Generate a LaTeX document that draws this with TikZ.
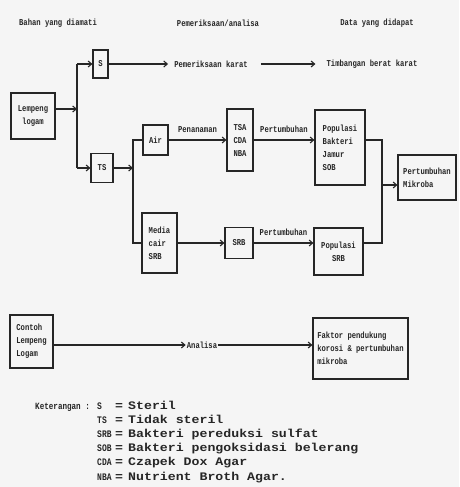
\documentclass[tikz,border=0pt]{standalone}
\usepackage{fontspec}
\setmonofont{Liberation Mono}
\newfontfamily\narrowtt[FakeStretch=0.8]{Liberation Mono}
\newfontfamily\widett[FakeStretch=1.15]{Liberation Mono}
\usetikzlibrary{arrows.meta,calc}

\begin{document}
\begin{tikzpicture}[x=1pt,y=-1pt,>={Straight Barb[length=3.5pt,width=6pt]},
  box/.style={draw=black!85,line width=1.1pt,inner sep=1pt,align=left,
    text=black!85,font=\narrowtt\bfseries\fontsize{9}{13}\selectfont},
  lbl/.style={inner sep=1pt,text=black!85,font=\narrowtt\bfseries\fontsize{9}{11}\selectfont},
  legab/.style={inner sep=0pt,text=black!85,font=\narrowtt\bfseries\fontsize{10}{12}\selectfont},
  legdef/.style={inner sep=0pt,text=black!85,font=\widett\bfseries\fontsize{11.5}{12}\selectfont},
  conn/.style={->,draw=black!85,line width=1.1pt},
  wire/.style={draw=black!85,line width=1.1pt}]

  % Page: light paper tone, fixed to the reference size
  \fill[black!4] (0,0) rectangle (459,487);
  \useasboundingbox (0,0) rectangle (459,487);

  % --- Column headings ---
  \node[lbl] (hdbahan)   at (58,23)  {Bahan yang diamati};
  \node[lbl] (hdperiksa) at (218,23) {Pemeriksaan/analisa};
  \node[lbl] (hddata)    at (377,23) {Data yang didapat};

  % --- Samples and treatment boxes ---
  \node[box,align=center,minimum width=44pt,minimum height=46pt] (lempeng) at (33,116) {Lempeng\\logam};
  \node[box,minimum width=15pt,minimum height=28pt] (s)  at (100.5,64) {S};
  \node[box,minimum width=22pt,minimum height=29pt] (ts) at (102,168) {TS};
  \node[box,minimum width=25pt,minimum height=30pt] (air)   at (155.5,140) {Air};
  \node[box,minimum width=35pt,minimum height=60pt] (media) at (159.5,243) {Media\\cair\\SRB};
  \node[box,align=center,minimum width=26pt,minimum height=62pt] (tsa) at (240,140) {TSA\\CDA\\NBA};
  \node[box,minimum width=28pt,minimum height=31pt] (srb) at (239,243) {SRB};

  % --- Results ---
  \node[box,minimum width=50pt,minimum height=75pt] (popbak) at (340,147.5) {Populasi\\Bakteri\\Jamur\\SOB};
  \node[box,align=center,minimum width=49pt,minimum height=47pt] (popsrb) at (338.5,251.5) {Populasi\\SRB};
  \node[box,minimum width=58pt,minimum height=45pt] (mikroba) at (427,177.5) {Pertumbuhan\\Mikroba};
  \node[lbl] (pkarat)  at (211,64) {Pemeriksaan karat};
  \node[lbl] (timbang) at (372,64) {Timbangan berat karat};

  % --- Analysis row ---
  \node[box,minimum width=43pt,minimum height=53pt] (contoh) at (31.5,341.5) {Contoh\\Lempeng\\Logam};
  \node[lbl] (analisa) at (202,345) {Analisa};
  \node[box,minimum width=95pt,minimum height=61pt] (faktor) at (360.5,348.5) {Faktor pendukung\\korosi \& pertumbuhan\\mikroba};

  % --- Junctions ---
  \coordinate (jl)    at (77,109);
  \coordinate (jltop) at (77,64);
  \coordinate (jlbot) at (77,168);
  \coordinate (jm)    at (133,168);
  \coordinate (jmtop) at (133,140);
  \coordinate (jmbot) at (133,243);
  \coordinate (jrtop) at (382,140);
  \coordinate (jrbot) at (382,243);
  \coordinate (jrmid) at (382,185);

  % --- Connectors ---
  \draw[conn] ([yshift=7pt]lempeng.east) -- (jl);
  \draw[wire] (jltop) -- (jlbot);
  \draw[conn] (jltop) -- (s.west);
  \draw[conn] (jlbot) -- (ts.west);
  \draw[conn,shorten >=5pt] (s.east) -- (pkarat.west);
  \draw[conn,shorten <=12pt,shorten >=10pt] (pkarat.east) -- (timbang.west);

  \draw[conn] (ts.east) -- (jm);
  \draw[wire] (air.west) -- (jmtop) -- (jmbot) -- (media.west);
  \draw[conn] (air.east) -- (air.east -| tsa.west)
    node[lbl,midway,above=6pt] (lbltanam) {Penanaman};
  \draw[conn] (tsa.east) -- (tsa.east -| popbak.west)
    node[lbl,midway,above=6pt] (lbltumbuh1) {Pertumbuhan};
  \draw[conn] (media.east) -- (srb.west);
  \draw[conn] (srb.east) -- (srb.east -| popsrb.west)
    node[lbl,midway,above=6pt] (lbltumbuh2) {Pertumbuhan};

  \draw[wire] (popbak.east |- jrtop) -- (jrtop) -- (jrbot) -- (popsrb.east |- jrbot);
  \draw[conn] (jrmid) -- (jrmid -| mikroba.west);

  \draw[conn] (contoh.east |- analisa) -- (analisa.west);
  \draw[conn] (analisa.east) -- (analisa -| faktor.west);

  % --- Legend ---
  \node[legab,anchor=base west,font=\narrowtt\bfseries\fontsize{9.5}{12}\selectfont] (ket) at (35,409) {Keterangan :};
  \foreach \ab/\df [count=\i] in {S/Steril, TS/Tidak steril,
      SRB/Bakteri pereduksi sulfat, SOB/Bakteri pengoksidasi belerang,
      CDA/Czapek Dox Agar, NBA/Nutrient Broth Agar.} {
    \pgfmathsetmacro\ly{409+(\i-1)*14.2}
    \node[legab,anchor=base west] (ab\i) at (97,\ly) {\ab};
    \node[legdef,anchor=base] (eq\i) at (119,\ly) {=};
    \node[legdef,anchor=base west] (df\i) at (128,\ly) {\df};
  }

\end{tikzpicture}
\end{document}
